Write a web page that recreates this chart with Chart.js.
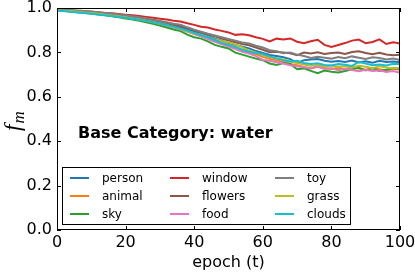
<!DOCTYPE html>
<html>
<head>
<meta charset="utf-8">
<script src="https://cdn.jsdelivr.net/npm/chart.js@4.4.1/dist/chart.umd.min.js"></script>
<style>
    html, body { margin: 0; padding: 0; background: #fff; }
    #contenedor { width: 415px; height: 272px; }
</style>
</head>
<body>
<div id="contenedor"><canvas id="canvasChart" width="415" height="272"></canvas></div>
<script>
// [DATOS] epoch cada 2 pasos
const EPOCHS = [0, 2, 4, 6, 8, 10, 12, 14, 16, 18, 20, 22, 24, 26, 28, 30, 32, 34, 36, 38, 40, 42, 44, 46, 48, 50,
    52, 54, 56, 58, 60, 62, 64, 66, 68, 70, 72, 74, 76, 78, 80, 82, 84, 86, 88, 90, 92, 94, 96, 98, 100];

const PERSON = [.991, .989, .987, .985, .982, .979, .976, .972, .969, .965, .961, .957, .952, .947, .941, .935, .928, .921, .913, .904,
    .894, .884, .874, .862, .853, .843, .834, .826, .818, .806, .797, .788, .784, .778, .770, .752, .765, .768, .770, .762,
    .758, .761, .757, .763, .755, .760, .754, .762, .757, .759, .756];
const ANIMAL = [.990, .988, .985, .982, .979, .976, .973, .969, .965, .961, .957, .952, .947, .942, .936, .929, .921, .913, .904, .894,
    .884, .874, .864, .853, .842, .832, .822, .812, .800, .792, .780, .771, .764, .757, .748, .742, .734, .729, .736, .730,
    .725, .731, .724, .733, .727, .722, .730, .724, .719, .726, .722];
const SKY = [.989, .987, .984, .981, .978, .975, .971, .967, .963, .958, .953, .948, .942, .936, .929, .921, .912, .903, .896, .880,
    .868, .862, .850, .834, .825, .818, .799, .790, .781, .772, .765, .750, .743, .752, .748, .724, .728, .717, .706, .718,
    .713, .710, .716, .724, .731, .719, .728, .716, .722, .729, .727];
const WINDOW = [.993, .991, .989, .987, .985, .983, .981, .978, .976, .973, .970, .967, .964, .960, .956, .952, .948, .943, .939, .931,
    .924, .916, .912, .903, .897, .890, .879, .882, .877, .868, .861, .849, .862, .858, .863, .848, .841, .850, .857, .834,
    .825, .833, .842, .853, .858, .841, .847, .859, .838, .846, .840];
const FLOWERS = [.992, .990, .988, .986, .984, .981, .978, .975, .972, .968, .964, .960, .955, .950, .945, .939, .933, .926, .919, .910,
    .900, .891, .882, .872, .862, .853, .846, .838, .832, .822, .812, .801, .803, .800, .796, .787, .799, .795, .801, .793,
    .797, .799, .793, .802, .805, .797, .792, .798, .791, .787, .789];
const FOOD = [.991, .989, .987, .984, .981, .978, .975, .971, .967, .963, .958, .953, .948, .942, .936, .929, .921, .913, .904, .894,
    .883, .872, .860, .848, .836, .826, .815, .803, .795, .783, .766, .762, .756, .750, .742, .738, .733, .728, .735, .725,
    .729, .720, .726, .721, .715, .722, .716, .719, .712, .716, .708];
const TOY = [.995, .993, .991, .989, .987, .984, .981, .978, .975, .971, .967, .963, .958, .953, .948, .942, .936, .929, .925, .913,
    .902, .893, .884, .876, .868, .860, .853, .845, .840, .830, .822, .810, .805, .796, .800, .790, .784, .775, .780, .776,
    .772, .779, .774, .782, .776, .770, .778, .775, .768, .772, .766];
const GRASS = [.990, .988, .986, .983, .980, .977, .974, .970, .966, .962, .958, .953, .948, .943, .937, .930, .923, .915, .906, .896,
    .886, .880, .870, .858, .851, .846, .836, .823, .808, .800, .788, .779, .772, .768, .760, .752, .745, .740, .743, .737,
    .741, .735, .738, .732, .740, .735, .729, .737, .732, .728, .731];
const CLOUDS = [.988, .986, .983, .980, .977, .974, .971, .967, .964, .960, .956, .952, .947, .942, .936, .930, .923, .915, .907, .898,
    .888, .877, .868, .856, .843, .833, .825, .812, .803, .797, .793, .782, .773, .764, .758, .762, .752, .748, .751, .743,
    .741, .748, .744, .739, .757, .750, .742, .746, .741, .749, .748];

const SERIES_NAMES = ['person', 'animal', 'sky', 'window', 'flowers', 'food', 'toy', 'grass', 'clouds'];
const SERIES_VALUES = [PERSON, ANIMAL, SKY, WINDOW, FLOWERS, FOOD, TOY, GRASS, CLOUDS];
const X_TICKS = [0, 20, 40, 60, 80, 100];
const Y_TICKS = [0, 0.2, 0.4, 0.6, 0.8, 1.0];
const TITLE_TEXT = 'Base Category: water';

// [ESTILOS]
const COLORS = ['#1f77b4', '#ff7f0e', '#2ca02c', '#d62728', '#8c564b', '#e377c2', '#7f7f7f', '#bcbd22', '#17becf'];
const FONT = 'DejaVu Sans';

// Marco negro con ticks hacia dentro (estilo matplotlib clásico)
const framePlugin = {
    id: 'marco',
    afterDatasetsDraw(chart) {
        const { ctx, chartArea: a, scales: { x, y } } = chart;
        ctx.save();
        ctx.strokeStyle = '#000';
        ctx.lineWidth = 1;
        ctx.beginPath();
        X_TICKS.forEach(v => {
            const px = Math.round(x.getPixelForValue(v)) + 0.5;
            ctx.moveTo(px, a.bottom); ctx.lineTo(px, a.bottom - 4);
            ctx.moveTo(px, a.top); ctx.lineTo(px, a.top + 4);
        });
        Y_TICKS.forEach(v => {
            const py = Math.round(y.getPixelForValue(v)) + 0.5;
            ctx.moveTo(a.left, py); ctx.lineTo(a.left + 4, py);
            ctx.moveTo(a.right, py); ctx.lineTo(a.right - 4, py);
        });
        ctx.stroke();
        ctx.strokeRect(Math.round(a.left) + 0.5, Math.round(a.top) + 0.5,
            Math.round(a.right - a.left) - 1, Math.round(a.bottom - a.top) - 1);
        ctx.restore();
    }
};

// Título interior, leyenda en 3 columnas y etiqueta del eje y
const extrasPlugin = {
    id: 'extras',
    afterDraw(chart) {
        const { ctx, chartArea: a } = chart;
        ctx.save();
        // título
        ctx.fillStyle = '#000';
        ctx.font = `bold 16px "${FONT}"`;
        ctx.textBaseline = 'alphabetic';
        ctx.fillText(TITLE_TEXT, a.left + 21, 138);
        // leyenda
        const bx = a.left + 5.5, by = 167.5, bw = 288, bh = 57;
        ctx.fillStyle = '#fff';
        ctx.fillRect(bx, by, bw, bh);
        ctx.strokeStyle = '#000';
        ctx.lineWidth = 1;
        ctx.strokeRect(bx, by, bw, bh);
        ctx.font = `12px "${FONT}"`;
        ctx.textBaseline = 'middle';
        const colX = [70, 170, 275];
        SERIES_NAMES.forEach((name, i) => {
            const col = Math.floor(i / 3), row = i % 3;
            const lx = colX[col], ly = 178 + row * 18;
            ctx.strokeStyle = COLORS[i];
            ctx.lineWidth = 2;
            ctx.beginPath();
            ctx.moveTo(lx, ly); ctx.lineTo(lx + 19, ly);
            ctx.stroke();
            ctx.fillStyle = '#000';
            ctx.fillText(name, lx + 32, ly + 1);
        });
        // etiqueta eje y: f_m
        ctx.translate(20, 131);
        ctx.rotate(-Math.PI / 2);
        ctx.fillStyle = '#000';
        ctx.textBaseline = 'alphabetic';
        ctx.font = `italic 23px "Liberation Serif"`;
        ctx.fillText('f', 0, 0);
        const fw = ctx.measureText('f').width;
        ctx.font = `italic 17px "Liberation Serif"`;
        ctx.fillText('m', fw + 1, 4);
        ctx.restore();
    }
};

const $CANVAS = document.getElementById('canvasChart');

const datasets = SERIES_NAMES.map((name, i) => ({
    label: name,
    data: EPOCHS.map((e, j) => ({ x: e, y: SERIES_VALUES[i][j] })),
    borderColor: COLORS[i],
    backgroundColor: COLORS[i],
    borderWidth: 2,
    pointRadius: 0,
    tension: 0,
    fill: false,
    order: SERIES_NAMES.length - i
}));

const configChart = {
    type: 'line',
    data: { datasets },
    options: {
        responsive: false,
        animation: false,
        events: [],
        layout: { padding: { top: 8, right: 15, left: 0, bottom: 0 } },
        plugins: { legend: { display: false }, tooltip: { enabled: false } },
        scales: {
            x: {
                type: 'linear',
                min: 0,
                max: 100,
                afterFit: s => { s.height = 42; s.paddingLeft = 0; s.paddingRight = 0; },
                afterBuildTicks: s => { s.ticks = X_TICKS.map(v => ({ value: v })); },
                grid: { display: false, drawTicks: false },
                border: { display: false },
                ticks: {
                    color: '#000',
                    font: { family: FONT, size: 16 },
                    padding: 3,
                    maxRotation: 0,
                    autoSkip: false
                },
                title: {
                    display: true,
                    text: 'epoch (t)',
                    color: '#000',
                    font: { family: FONT, size: 16 },
                    padding: 0
                }
            },
            y: {
                type: 'linear',
                min: 0,
                max: 1,
                afterFit: s => { s.width = 57; s.paddingTop = 0; s.paddingBottom = 0; },
                afterBuildTicks: s => { s.ticks = Y_TICKS.map(v => ({ value: v })); },
                grid: { display: false, drawTicks: false },
                border: { display: false },
                ticks: {
                    color: '#000',
                    font: { family: FONT, size: 16 },
                    padding: 5,
                    callback: v => v.toFixed(1)
                }
            }
        }
    },
    plugins: [framePlugin, extrasPlugin]
};

new Chart($CANVAS, configChart);
</script>
</body>
</html>
